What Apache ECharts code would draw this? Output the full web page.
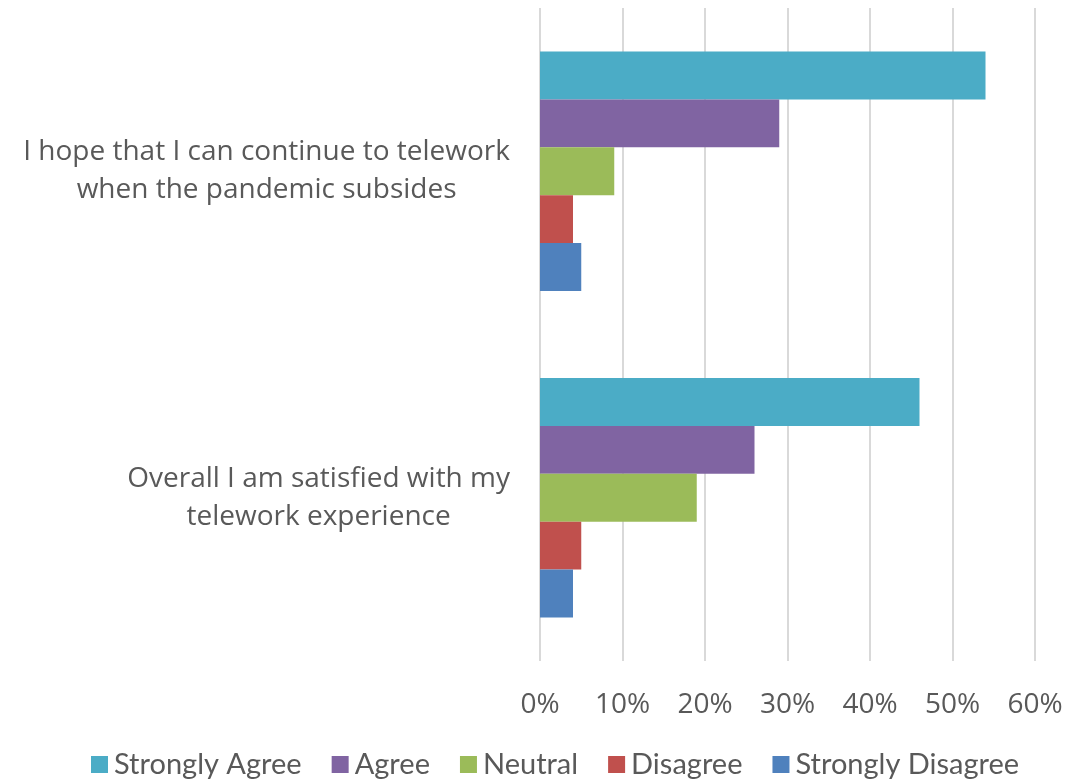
<!DOCTYPE html>
<html>
<head>
<meta charset="utf-8">
<script src="https://cdn.jsdelivr.net/npm/echarts@6/dist/echarts.min.js"></script>
<style>
  html, body { margin: 0; padding: 0; background: #fff; }
  #main { width: 1087px; height: 780px; }
</style>
</head>
<body>
<div id="main"></div>
<script>
// categories from top to bottom (axis is inverted)
var categories = ['I hope that I can continue to telework\nwhen the pandemic subsides', 'Overall I am satisfied with my\ntelework experience'];
var seriesNames = ['Strongly Agree', 'Agree', 'Neutral', 'Disagree', 'Strongly Disagree'];
var seriesColors = ['#4BACC6', '#8064A2', '#9BBB59', '#C0504D', '#4F81BD'];
// percent values, one array per answer, in category order
var stronglyAgree = [54, 46];
var agree = [29, 26];
var neutral = [9, 19];
var disagree = [4, 5];
var stronglyDisagree = [5, 4];
var xTicks = [0, 10, 20, 30, 40, 50, 60];

var values = [stronglyAgree, agree, neutral, disagree, stronglyDisagree];
var textColor = '#595959';

var chart = echarts.init(document.getElementById('main'));

var series = seriesNames.map(function (name, i) {
     return {
          type: 'bar',
          name: name,
          data: values[i],
          itemStyle: { color: seriesColors[i] },
          barGap: '0%',
          barCategoryGap: '26.7%'
     };
});

var option = {
     animation: false,
     grid: { left: 540, right: 52, top: 8, bottom: 119, containLabel: false },
     legend: {
          bottom: -4,
          left: 86,
          data: seriesNames,
          icon: 'rect',
          itemWidth: 17,
          itemHeight: 17,
          itemGap: 30,
          textStyle: { color: textColor, fontSize: 29, fontFamily: 'Lato', padding: [0, 0, 0, 1] }
     },
     xAxis: {
          type: 'value',
          min: xTicks[0],
          max: xTicks[xTicks.length - 1],
          interval: 10,
          axisLine: { show: false },
          axisTick: { show: false },
          splitLine: { lineStyle: { color: '#d9d9d9', width: 2 } },
          axisLabel: {
               color: textColor,
               fontSize: 28,
               fontFamily: 'Open Sans',
               margin: 30,
               formatter: function (v) { return v + '%'; }
          }
     },
     yAxis: {
          type: 'category',
          data: categories,
          inverse: true,
          axisLine: { show: false },
          axisTick: { show: false },
          axisLabel: {
               color: textColor,
               fontSize: 28,
               fontFamily: 'Open Sans',
               margin: 30,
               formatter: function (v) {
                    return v.split('\n').map(function (s) { return '{c|' + s + '}'; }).join('\n');
               },
               rich: {
                    c: { align: 'center', color: textColor, fontSize: 28, fontFamily: 'Open Sans', lineHeight: 38 }
               }
          }
     },
     series: series
};

chart.setOption(option);
</script>
</body>
</html>
